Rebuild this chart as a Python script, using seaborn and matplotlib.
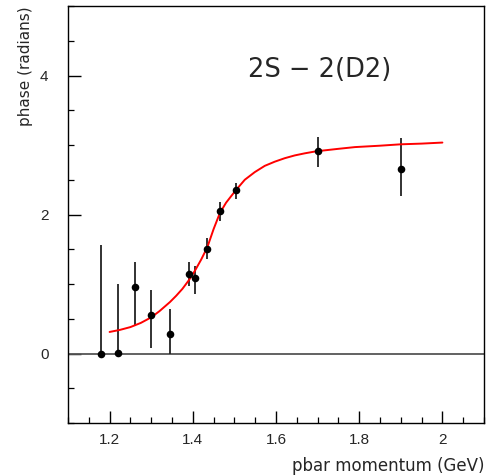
import numpy as np
import pandas as pd
import matplotlib
matplotlib.use("Agg")
import matplotlib.pyplot as plt
import seaborn as sns
from matplotlib.ticker import MultipleLocator

# Measured phases with error bars
p_mom = [1.18, 1.22, 1.26, 1.30, 1.345, 1.39, 1.405, 1.435, 1.465, 1.505, 1.70, 1.90]
phase = [0.00, 0.01, 0.96, 0.56, 0.28, 1.15, 1.08, 1.51, 2.05, 2.35, 2.92, 2.65]
err_lo = [0.00, 0.00, 0.40, 0.08, 0.00, 0.97, 0.85, 1.36, 1.91, 2.22, 2.68, 2.27]
err_hi = [1.56, 1.00, 1.32, 0.91, 0.635, 1.32, 1.26, 1.66, 2.18, 2.45, 3.11, 3.10]

# Fit curve
fit_x = [1.20, 1.225, 1.25, 1.275, 1.30, 1.32, 1.345, 1.36, 1.375, 1.39, 1.405,
         1.42, 1.435, 1.45, 1.465, 1.48, 1.493, 1.505, 1.525, 1.549, 1.573,
         1.597, 1.621, 1.645, 1.669, 1.697, 1.72, 1.75, 1.79, 1.85, 1.90, 1.95, 2.00]
fit_y = [0.31, 0.34, 0.38, 0.44, 0.52, 0.61, 0.74, 0.83, 0.93, 1.05, 1.19,
         1.35, 1.53, 1.79, 2.02, 2.17, 2.27, 2.36, 2.50, 2.61, 2.70,
         2.76, 2.81, 2.85, 2.88, 2.91, 2.925, 2.945, 2.97, 2.99, 3.01, 3.02, 3.035]

title_text = "2S \u2212 2(D2)"
x_label = "pbar momentum (GeV)"
y_label = "phase (radians)"

sns.set_style("ticks")
plt.rcParams['font.family'] = ['Liberation Sans', 'DejaVu Sans']

fig = plt.figure(figsize=(4.92, 4.76), dpi=100)
ax = fig.add_axes([68/492, 1 - 423/476, 416/492, 417/476])

df_pts = pd.DataFrame({"x": p_mom, "y": phase, "lo": err_lo, "hi": err_hi})
df_fit = pd.DataFrame({"x": fit_x, "y": fit_y})

ax.axhline(0, color="#555555", lw=1.3, zorder=1)
ax.vlines(df_pts["x"], df_pts["lo"], df_pts["hi"], color="#222222", lw=1.3, zorder=2)
sns.lineplot(data=df_fit, x="x", y="y", ax=ax, color="red", lw=1.4, zorder=3,
             sort=True, estimator=None)
sns.scatterplot(data=df_pts, x="x", y="y", ax=ax, color="black", s=30,
                edgecolor="black", linewidth=0, zorder=4)

ax.set_xlim(1.1, 2.1)
ax.set_ylim(-1, 5)
ax.xaxis.set_minor_locator(MultipleLocator(0.05))
ax.yaxis.set_minor_locator(MultipleLocator(0.5))
ax.set_xticks([1.2, 1.4, 1.6, 1.8, 2.0])
ax.set_xticklabels(["1.2", "1.4", "1.6", "1.8", "2"])
ax.set_yticks([0, 2, 4])
ax.set_yticklabels(["0", "2", "4"])

ax.tick_params(which="both", direction="in", top=False, right=False, color="black")
ax.tick_params(which="major", length=9, width=1.0, labelsize=11)
ax.tick_params(which="minor", length=4.5, width=0.9)
ax.tick_params(axis="x", which="major", pad=7)
ax.tick_params(axis="y", which="major", pad=14)
for s in ax.spines.values():
    s.set_linewidth(1.0)
    s.set_color("black")

ax.set_xlabel(x_label, fontsize=12, family="DejaVu Sans")
ax.set_ylabel(y_label, fontsize=11, family="DejaVu Sans")
ax.xaxis.set_label_coords(1.0, -0.082)
ax.xaxis.label.set_ha("right")
ax.yaxis.set_label_coords(-0.085, 1.0)
ax.yaxis.label.set_ha("right")

ax.text(0.605, 0.846, title_text, transform=ax.transAxes, ha="center", va="center",
        fontsize=18.5, family="DejaVu Sans")

fig.savefig("out.png", dpi=100)
